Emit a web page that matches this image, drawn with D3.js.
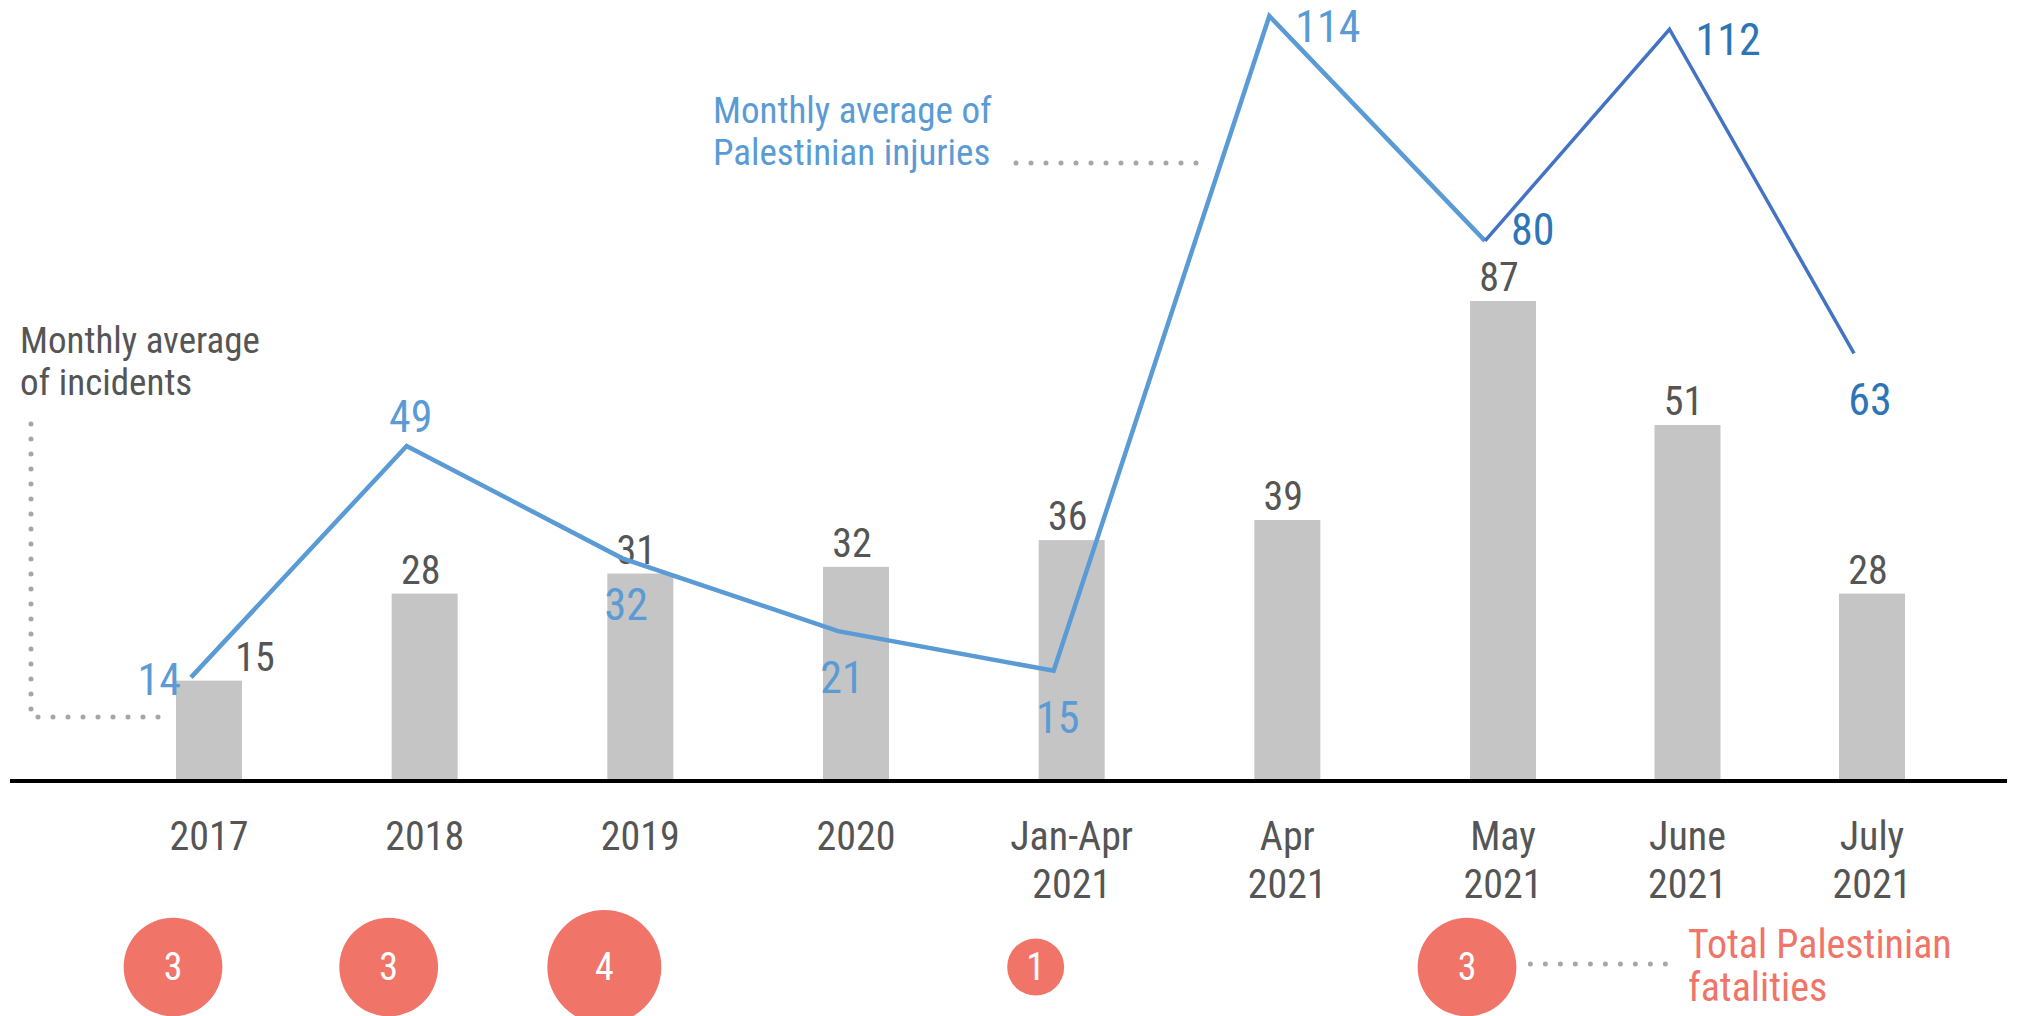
<!DOCTYPE html>
<html>
<head>
<meta charset="utf-8">
<script src="https://cdn.jsdelivr.net/npm/d3@7"></script>
<style>
  body { margin: 0; background: #fff; }
  svg { display: block; font-family: "Roboto Condensed", "Liberation Sans Narrow", "DejaVu Sans Condensed", Roboto, sans-serif; }
</style>
</head>
<body>
<svg id="chart"></svg>
<script>
const width = 2023;
const height = 1016;

// data
const categories = ["2017", "2018", "2019", "2020", "Jan-Apr 2021", "Apr 2021", "May 2021", "June 2021", "July 2021"];
const categoryLines = [["2017"], ["2018"], ["2019"], ["2020"], ["Jan-Apr", "2021"], ["Apr", "2021"], ["May", "2021"], ["June", "2021"], ["July", "2021"]];
const incidents = [15, 28, 31, 32, 36, 39, 87, 51, 28];
const injuries = [14, 49, 32, 21, 15, 114, 80, 112, 63];
const fatalities = [3, 3, 4, null, 1, null, 3, null, null];

// where each injury label sits relative to its point
const injuryLabelPlace = ["left", "above", "below", "below", "below", "right", "right", "right", "below"];

const blueLight = "#5b9bd5";
const blueDark = "#4472c4";
const blueDarkText = "#2e75b6";
const salmon = "#f07467";
const barGrey = "#c4c5c4";
const textGrey = "#555";
const dotGrey = "#a6a6a6";

const svg = d3.select("#chart")
  .attr("width", width)
  .attr("height", height);

const baseY = 781;

// category index -> bar centre (the last two columns sit closer together)
const x = d3.scaleLinear()
  .domain([0, 6, 8])
  .range([209, 1503, 1872]);

// bar heights are not strictly proportional in the source, follow it
const yBar = d3.scaleLinear()
  .domain([0, 39, 51, 87])
  .range([baseY, 520, 425, 301]);

const yLine = d3.scaleLinear()
  .domain([0, 114])
  .range([770, 16]);

const r = d3.scaleSqrt()
  .domain([0, 4])
  .range([0, 57]);

const barW = 66;
const lineShift = -18;
const idx = d3.range(categories.length);

// bars
svg.append("g")
  .selectAll("rect")
  .data(idx)
  .join("rect")
  .attr("x", i => x(i) - barW / 2)
  .attr("y", i => yBar(incidents[i]))
  .attr("width", barW)
  .attr("height", i => baseY - yBar(incidents[i]))
  .attr("fill", barGrey);

// bar value labels
svg.append("g")
  .selectAll("text")
  .data(idx)
  .join("text")
  .attr("x", i => x(i) + (i === 0 ? 46 : -4))
  .attr("y", i => yBar(incidents[i]) - 10)
  .attr("text-anchor", "middle")
  .attr("font-size", 40)
  .attr("fill", textGrey)
  .text(i => incidents[i]);

// baseline
svg.append("line")
  .attr("x1", 10).attr("x2", 2007)
  .attr("y1", baseY).attr("y2", baseY)
  .attr("stroke", "#000")
  .attr("stroke-width", 4);

// category labels
const catG = svg.append("g")
  .selectAll("text")
  .data(idx)
  .join("text")
  .attr("x", i => x(i))
  .attr("y", 850)
  .attr("text-anchor", "middle")
  .attr("font-size", 40)
  .attr("fill", "#555");

catG.selectAll("tspan")
  .data(i => categoryLines[i])
  .join("tspan")
  .attr("x", function () { return d3.select(this.parentNode).attr("x"); })
  .attr("dy", (d, j) => j === 0 ? 0 : 48)
  .text(d => d);

// injuries line, lighter blue up to May, darker after
const pts = idx.map(i => [x(i) + lineShift, yLine(injuries[i])]);
const line = d3.line();

svg.append("path")
  .attr("d", line(pts.slice(0, 7)))
  .attr("fill", "none")
  .attr("stroke", blueLight)
  .attr("stroke-width", 4.5)
  .attr("stroke-linejoin", "miter");

svg.append("path")
  .attr("d", line(pts.slice(6)))
  .attr("fill", "none")
  .attr("stroke", blueDark)
  .attr("stroke-width", 3.5);

svg.append("g")
  .selectAll("text")
  .data(idx)
  .join("text")
  .attr("font-size", 44)
  .attr("fill", i => i >= 6 ? blueDarkText : blueLight)
  .attr("text-anchor", i => ({ left: "end", right: "start" })[injuryLabelPlace[i]] || "middle")
  .attr("x", i => {
    const p = injuryLabelPlace[i];
    if (p === "left") return pts[i][0] - 10;
    if (p === "right") return pts[i][0] + 26;
    return pts[i][0] + (i >= 7 ? 16 : 4);
  })
  .attr("y", i => {
    const p = injuryLabelPlace[i];
    if (p === "above") return pts[i][1] - 14;
    if (p === "below") return pts[i][1] + 62;
    if (p === "right") return pts[i][1] + (i === 6 ? 4 : 26);
    return pts[i][1] + 18;
  })
  .text(i => injuries[i]);

// fatalities bubbles
const fIdx = idx.filter(i => fatalities[i] != null);
const circY = 967;
const bub = svg.append("g")
  .selectAll("g")
  .data(fIdx)
  .join("g")
  .attr("transform", i => `translate(${x(i) - 36},${circY})`);

bub.append("circle")
  .attr("r", i => r(fatalities[i]))
  .attr("fill", salmon);

bub.append("text")
  .attr("text-anchor", "middle")
  .attr("dy", "0.35em")
  .attr("font-size", 38)
  .attr("fill", "#fff")
  .text(i => fatalities[i]);

// annotations
const dotted = sel => sel
  .attr("fill", "none")
  .attr("stroke", dotGrey)
  .attr("stroke-width", 5)
  .attr("stroke-linecap", "round")
  .attr("stroke-dasharray", "0 15");

const incText = svg.append("text")
  .attr("x", 20).attr("y", 353)
  .attr("font-size", 37)
  .attr("fill", textGrey);
incText.append("tspan").attr("x", 20).text("Monthly average");
incText.append("tspan").attr("x", 20).attr("dy", 42).text("of incidents");

svg.append("path")
  .attr("d", `M31,424 V717 H${x(0) - barW / 2 - 6}`)
  .call(dotted);

const injText = svg.append("text")
  .attr("x", 713).attr("y", 123)
  .attr("font-size", 37)
  .attr("fill", blueLight);
injText.append("tspan").attr("x", 713).text("Monthly average of");
injText.append("tspan").attr("x", 713).attr("dy", 42).text("Palestinian injuries");

// leader meets the line where it climbs from Jan-Apr to Apr
const leadY = 163;
const [p0, p1] = [pts[4], pts[5]];
const leadX = p0[0] + (p1[0] - p0[0]) * (leadY - p0[1]) / (p1[1] - p0[1]);
svg.append("path")
  .attr("d", `M1016,${leadY} H${leadX - 12}`)
  .call(dotted);

const lastF = fIdx[fIdx.length - 1];
svg.append("path")
  .attr("d", `M${x(lastF) - 36 + r(fatalities[lastF]) + 14},${circY - 3} H1680`)
  .call(dotted);

const fatText = svg.append("text")
  .attr("x", 1688).attr("y", 958)
  .attr("font-size", 40)
  .attr("fill", salmon);
fatText.append("tspan").attr("x", 1688).text("Total Palestinian");
fatText.append("tspan").attr("x", 1688).attr("dy", 43).text("fatalities");
</script>
</body>
</html>
